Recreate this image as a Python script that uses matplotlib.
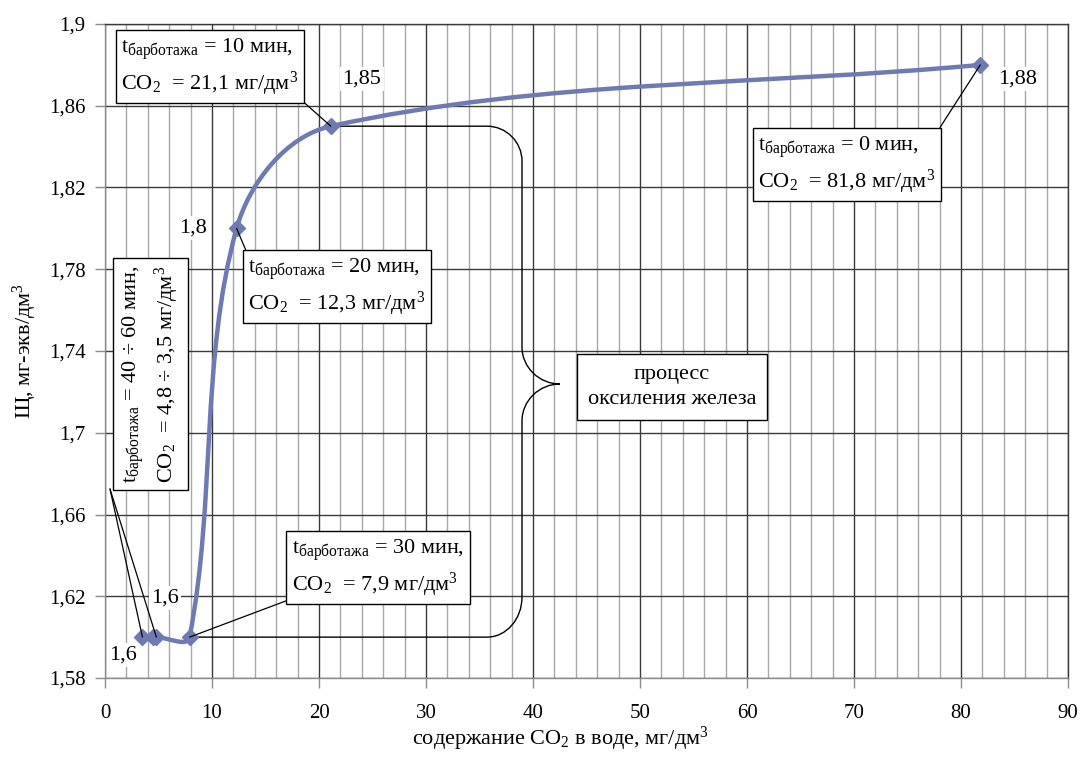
import numpy as np
import matplotlib as mpl
import matplotlib.pyplot as plt
from matplotlib.path import Path
from matplotlib.patches import PathPatch
from matplotlib.transforms import Affine2D

mpl.rcParams['font.family'] = ['Liberation Serif', 'DejaVu Serif']
mpl.rcParams['mathtext.fontset'] = 'custom'
mpl.rcParams['mathtext.rm'] = 'Liberation Serif'
mpl.rcParams['mathtext.it'] = 'Liberation Serif:italic'
mpl.rcParams['mathtext.bf'] = 'Liberation Serif:bold'

# bubbling time, CO2 content and alkalinity
t_min = [0, 10, 20, 30, 40, 50, 60]
co2 = [81.8, 21.1, 12.3, 7.9, 4.8, 4.5, 3.5]
alk = [1.88, 1.85, 1.80, 1.60, 1.60, 1.60, 1.60]

x_ticks = [0, 10, 20, 30, 40, 50, 60, 70, 80, 90]
y_ticks = [1.58, 1.62, 1.66, 1.70, 1.74, 1.78, 1.82, 1.86, 1.90]
y_ticklabels = ['1,58', '1,62', '1,66', '1,7', '1,74', '1,78', '1,82', '1,86', '1,9']

XMIN, XMAX, YMIN, YMAX = 0, 90, 1.58, 1.90
LINE = '#6e7bb2'

fig = plt.figure(figsize=(10.8, 7.65), dpi=100)
# axes box in pixels: left 105, right 1068, top 24, bottom 678
W, H = 963.0, 654.0
ax = fig.add_axes([105 / 1080, 1 - 678 / 765, W / 1080, H / 765])
ax.set_xlim(XMIN, XMAX)
ax.set_ylim(YMIN, YMAX)


def frac(x, y):
    # pixel position on the image -> axes fraction
    return (x - 105) / W, (678 - y) / H


def to_px(x, y):
    return (np.asarray(x) - XMIN) / (XMAX - XMIN) * W, (np.asarray(y) - YMIN) / (YMAX - YMIN) * H


def to_data(X, Y):
    return X / W * (XMAX - XMIN) + XMIN, Y / H * (YMAX - YMIN) + YMIN


# grid
ax.set_xticks(x_ticks)
ax.set_xticks(np.arange(0, 91, 2), minor=True)
ax.set_yticks(y_ticks)
ax.set_yticklabels(y_ticklabels)
ax.set_xticklabels([str(v) for v in x_ticks])
ax.xaxis.grid(True, which='minor', color='#a8a8a8', lw=1.0)
ax.xaxis.grid(True, which='major', color='#3a3a3a', lw=1.0)
ax.yaxis.grid(True, which='major', color='#3a3a3a', lw=1.0)
ax.set_axisbelow(True)
ax.tick_params(which='minor', length=0)
ax.tick_params(which='major', direction='out', length=7, width=1, color='#8c8c8c', labelsize=15)
ax.tick_params(axis='x', pad=12)
ax.tick_params(axis='y', pad=7)
for s in ['left', 'bottom']:
    ax.spines[s].set_color('#8c8c8c')
for s in ['top', 'right']:
    ax.spines[s].set_color('#3a3a3a')
for s in ax.spines.values():
    s.set_linewidth(1.0)
    s.set_zorder(3)

# smoothed line through the points (cubic Bezier segments in screen space)
P = np.column_stack(to_px(co2, alk))
n = len(P)
verts = [P[0]]
codes = [Path.MOVETO]
for i in range(n - 1):
    p0, p1 = P[i], P[i + 1]
    seg = np.hypot(*(p1 - p0))
    prev = P[i - 1] if i > 0 else P[i]
    nxt = P[i + 2] if i + 2 < n else P[i + 1]
    d0 = (p1 - prev) / np.hypot(*(p1 - prev))
    d1 = (nxt - p0) / np.hypot(*(nxt - p0))
    verts += [p0 + d0 * seg / 3, p1 - d1 * seg / 3, p1]
    codes += [Path.CURVE4] * 3
verts = np.array(verts)
vx, vy = to_data(verts[:, 0], verts[:, 1])
curve = PathPatch(Path(np.column_stack([vx, vy]), codes), fill=False,
                  edgecolor=LINE, lw=3.2, capstyle='round', joinstyle='round', zorder=4)
ax.add_patch(curve)
ax.plot(co2, alk, 'D', ms=8, color=LINE, zorder=4, clip_on=False)

# value labels
val = [f"{v:g}".replace('.', ',') for v in alk]
label_pos = {0: (1018, 79), 1: (362, 79), 2: (193, 228), 3: (165, 598), 6: (123, 655)}
for i, (lx, ly) in label_pos.items():
    ax.text(*frac(lx, ly), val[i], transform=ax.transAxes, ha='center', va='center',
            fontsize=16, zorder=5,
            bbox=dict(boxstyle='square,pad=0.1', fc='white', ec='none'))

box = dict(boxstyle='square,pad=0.25', fc='white', ec='black', lw=1.0)
lead = dict(arrowstyle='-', color='black', lw=0.9, shrinkA=0, shrinkB=0)


def num(v):
    return f"{v:g}".replace('.', ',')


def note(i):
    return (f"t$_{{\\mathrm{{барботажа}}}}$ = {t_min[i]} мин,\n"
            f"CO$_2$  = {num(co2[i])} мг/дм$^3$")


# callout boxes: (point index, box centre in pixels, corner the leader leaves from)
callouts = [(0, (847, 165), (1, 1)),
            (1, (210, 67), (1, 0)),
            (2, (337, 287), (0, 1)),
            (3, (378, 568), (0, 0))]
for i, (cx, cy), rp in callouts:
    ax.annotate(note(i), xy=(co2[i], alk[i]), xycoords='data',
                xytext=frac(cx, cy), textcoords='axes fraction',
                ha='center', va='center', ma='left', fontsize=16, linespacing=1.38,
                bbox=box, zorder=6, arrowprops=dict(lead, relpos=rp))

# rotated box for 40-60 min
rot_txt = (f"t$_{{\\mathrm{{барботажа}}}}$ = {t_min[4]} ÷ {t_min[-1]} мин,\n"
           f"CO$_2$  = {num(co2[4])} ÷ {num(co2[-1])} мг/дм$^3$")
ax.text(*frac(151, 374), rot_txt, transform=ax.transAxes, rotation=90,
        ha='center', va='center', ma='left', fontsize=16, linespacing=1.35,
        bbox=dict(box, boxstyle='square,pad=0.3'), zorder=6)
for i in (4, 6):
    ax.annotate('', xy=(co2[i], alk[i]), xycoords='data',
                xytext=frac(110, 489), textcoords='axes fraction',
                arrowprops=lead, zorder=5)

# curly brace spanning the iron oxidation stage
xt, yt = to_px(co2[1], alk[1])
xb, yb = to_px(co2[3], alk[3])


def im(x, y):
    return (x - 105, 678 - y)


k = 0.55
vx_ = im(522, 0)[0]
tip = im(560, 384)
top = im(522, 347)
bot = im(522, 421)
brace_v = [(float(xt), float(yt)), (vx_ - 35, float(yt)),
           (vx_ - 35 + k * 35, float(yt)), (vx_, float(yt) - 35 + k * 35), (vx_, float(yt) - 35),
           top,
           (vx_, top[1] - k * 37), (tip[0] - k * 38, tip[1]), tip,
           (tip[0] - k * 38, tip[1]), (vx_, bot[1] + k * 37), bot,
           (vx_, float(yb) + 40),
           (vx_, float(yb) + 40 - k * 40), (vx_ - 35 + k * 35, float(yb)), (vx_ - 35, float(yb)),
           (float(xb), float(yb))]
brace_c = ([Path.MOVETO, Path.LINETO] + [Path.CURVE4] * 3 + [Path.LINETO]
           + [Path.CURVE4] * 6 + [Path.LINETO] + [Path.CURVE4] * 3 + [Path.LINETO])
ax.add_patch(PathPatch(Path(brace_v, brace_c), fill=False, edgecolor='black', lw=1.0,
                       transform=Affine2D().scale(1 / W, 1 / H) + ax.transAxes, zorder=3.5))

ax.text(*frac(672, 387), 'процесс\nоксиления железа', transform=ax.transAxes,
        ha='center', va='center', ma='center', fontsize=16, linespacing=1.4,
        bbox=dict(boxstyle='square,pad=0.5', fc='white', ec='black', lw=1.0), zorder=6)

# axis titles
fig.text(560 / 1080, 1 - 739 / 765, 'содержание CO$_2$ в воде, мг/дм$^3$',
         ha='center', va='center', fontsize=16)
fig.text(25 / 1080, 1 - 351 / 765, 'Щ, мг-экв/дм$^3$', rotation=90,
         ha='center', va='center', fontsize=16)

fig.savefig('out.png', dpi=100, facecolor='white')
